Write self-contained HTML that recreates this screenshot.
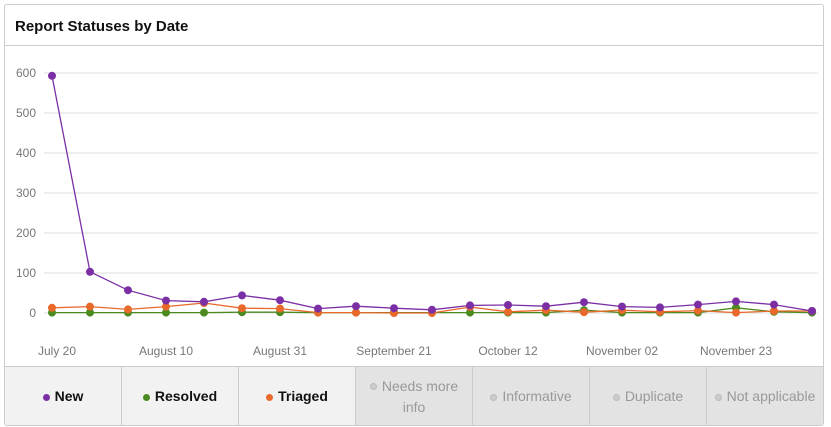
<!DOCTYPE html>
<html><head><meta charset="utf-8"><style>
body{margin:0;background:#fff;font-family:"Liberation Sans",sans-serif;}
.card{position:absolute;left:4px;top:4px;width:818px;height:420px;border:1px solid #ccc;border-radius:3px;overflow:hidden;}
.title{position:absolute;left:10px;top:13px;font-size:15px;font-weight:bold;color:#111;}
.hl{position:absolute;left:0;top:40px;width:100%;border-top:1px solid #ccc;}
.leg{position:absolute;left:0;top:361px;width:100%;height:59px;border-top:1px solid #ccc;display:flex;}
.leg div{flex:1;border-right:1px solid #ccc;display:flex;align-items:center;justify-content:center;text-align:center;font-size:14px;line-height:21px}
.leg div:last-child{border-right:none}
.on{background:#f2f2f2;color:#111;font-weight:bold}
.off{background:#e3e3e3;color:#999}
.d{display:inline-block;width:7px;height:7px;border-radius:50%;margin-right:5px;vertical-align:middle}
</style></head><body>
<div class="card">
<div class="title">Report Statuses by Date</div>
<div class="hl"></div>
<div class="leg">
<div class="on"><span><span class="d" style="background:#7b2fa5"></span>New</span></div>
<div class="on"><span><span class="d" style="background:#4a8a1e"></span>Resolved</span></div>
<div class="on"><span><span class="d" style="background:#e8692a"></span>Triaged</span></div>
<div class="off"><span><span class="d" style="background:#ccc;border:1px solid #bbb;width:5px;height:5px"></span>Needs more<br>info</span></div>
<div class="off"><span><span class="d" style="background:#ccc;border:1px solid #bbb;width:5px;height:5px"></span>Informative</span></div>
<div class="off"><span><span class="d" style="background:#ccc;border:1px solid #bbb;width:5px;height:5px"></span>Duplicate</span></div>
<div class="off"><span><span class="d" style="background:#ccc;border:1px solid #bbb;width:5px;height:5px"></span>Not applicable</span></div>
</div>
</div>
<svg id="s" width="831" height="427" style="position:absolute;left:0;top:0" font-family="Liberation Sans, sans-serif" font-size="12"></svg>
<script>
const s=document.getElementById('s');let h='';
for(let i=0;i<=6;i++){const y=313-i*40;h+=`<line x1="44" x2="818" y1="${y}" y2="${y}" stroke="#ddd"/><text x="36" y="${y+4}" text-anchor="end" fill="#777">${i*100}</text>`;}
const labs=[["July 20",57],["August 10",166],["August 31",280],["September 21",394],["October 12",508],["November 02",622],["November 23",736]];
labs.forEach(l=>h+=`<text x="${l[1]}" y="355" text-anchor="middle" fill="#777">${l[0]}</text>`);
const X=i=>52+i*38,Y=v=>313-v*0.4;
const ser=[
["#4a8a1e",[1,1,1,1,1,2,2,1,1,1,1,1,1,1,7,1,1,1,13,3,1]],
["#e8692a",[13,16,9,16,25,12,11,1,1,0,0,15,3,7,2,7,3,6,1,5,5]],
["#7b2fa5",[593,103,57,31,28,44,32,11,17,12,8,19,20,17,27,16,14,21,29,21,5]]];
ser.forEach(([c,d])=>{h+=`<polyline fill="none" stroke="${c}" stroke-width="1.3" points="${d.map((v,i)=>X(i)+','+Y(v)).join(' ')}"/>`;
d.forEach((v,i)=>h+=`<circle cx="${X(i)}" cy="${Y(v)}" r="4" fill="${c}"/>`);});
s.innerHTML=h;
</script>
</body></html>
